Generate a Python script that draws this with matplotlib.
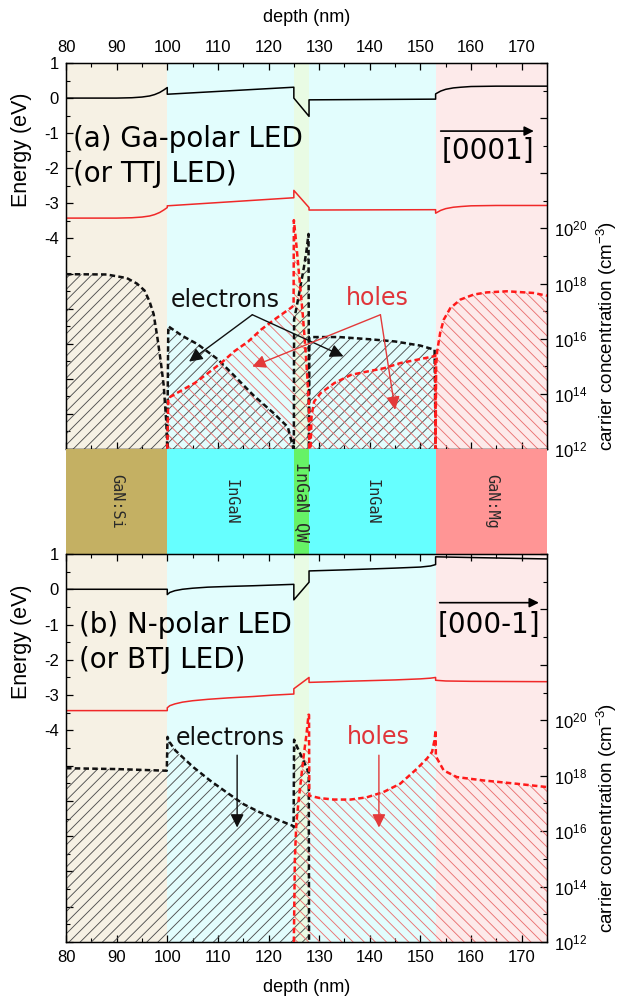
import numpy as np
import matplotlib
matplotlib.use('Agg')
import matplotlib.pyplot as plt
from matplotlib.ticker import FixedLocator, FuncFormatter, NullFormatter

plt.rcParams['font.family'] = ['Liberation Sans', 'DejaVu Sans']
plt.rcParams['mathtext.fontset'] = 'custom'
plt.rcParams['mathtext.rm'] = 'Liberation Sans'
plt.rcParams['mathtext.it'] = 'Liberation Sans:italic'
plt.rcParams['mathtext.bf'] = 'Liberation Sans:bold'
plt.rcParams['hatch.linewidth'] = 0.65

# ---------------- data ----------------
layer_names = ['GaN:Si', 'InGaN', 'InGaN QW', 'InGaN', 'GaN:Mg']
layer_edges = [80, 100, 125, 128, 153, 175]
layer_strip_colors = ['#c4b063', '#66ffff', '#66f266', '#66ffff', '#ff9595']
layer_bg_colors = ['#f6f1e4', '#e2fdfd', '#e9fbe4', '#e2fdfd', '#fdeaea']

# panel (a) bands (eV)
cb_a_x = [80, 90, 93, 95, 96.5, 97.5, 98.5, 99.3, 100.0, 100.0, 125.0, 125.0, 128.0, 128.0,
          153.0, 153.0, 154, 155, 156.5, 158, 160, 165, 175]
cb_a_E = [0.0, 0.0, 0.01, 0.03, 0.06, 0.1, 0.16, 0.23, 0.3, 0.11, 0.31, 0.0, -0.52, -0.05,
          -0.03, 0.12, 0.2, 0.25, 0.29, 0.31, 0.33, 0.34, 0.34]
vb_a_x = [80, 90, 93, 95, 96.5, 97.5, 98.5, 99.3, 100.0, 100.0, 125.0, 125.0, 128.0, 128.0,
          153.0, 153.0, 154, 155, 156.5, 158, 160, 165, 175]
vb_a_E = [-3.42, -3.42, -3.41, -3.39, -3.36, -3.32, -3.26, -3.19, -3.12, -3.07, -2.84, -2.63,
          -3.12, -3.19, -3.18, -3.28, -3.2, -3.15, -3.11, -3.09, -3.07, -3.06, -3.06]

# panel (a) carriers (log10 cm^-3)
n_a_x = [80, 88, 92, 94, 95.5, 96.5, 97.3, 98, 98.7, 99.3, 99.8, 100.0, 100.2, 103, 106, 110,
         113, 117, 121, 123.8, 124.8, 125.0, 125.05, 125.5, 126.0, 126.5, 127.0, 127.5, 127.9,
         128.0, 128.05, 134, 140, 145, 150, 152.8, 153.0]
n_a_log = [18.34, 18.33, 18.2, 18.0, 17.75, 17.35, 16.9, 16.1, 15.2, 14.3, 13.0, 12.0, 16.45,
           16.1, 15.8, 15.25, 14.7, 13.95, 13.3, 12.8, 12.1, 12.0, 16.7, 17.1, 17.6, 18.1, 18.6,
           19.2, 19.8, 12.0, 16.06, 16.06, 15.98, 15.9, 15.75, 15.6, 12.0]
p_a_x = [100.0, 100.2, 102.2, 105.5, 108.1, 110.7, 113.3, 116.0, 118.6, 121.2, 124.5, 124.95,
         125.0, 125.4, 125.8, 126.3, 126.8, 127.3, 127.7, 128.0, 128.05, 128.3, 128.5, 129.0,
         130.3, 133.0, 136.3, 139.5, 142.8, 146.1, 149.4, 152.6, 152.95, 153.0, 153.1, 153.3,
         153.9, 154.6, 155.9, 157.9, 160.5, 163.1, 167.1, 172.3, 175.0]
p_a_log = [12.0, 13.85, 14.06, 14.4, 14.76, 15.13, 15.55, 15.9, 16.34, 16.7, 17.13, 17.2,
           20.3, 19.6, 18.8, 17.8, 16.8, 15.6, 14.5, 13.5, 12.0, 12.0, 13.2, 13.72,
           14.03, 14.39, 14.69, 14.81, 14.93, 15.12, 15.24, 15.36, 15.4, 12.0, 15.0, 15.54,
           16.21, 16.69, 17.11, 17.42, 17.6, 17.68, 17.72, 17.66, 17.56]

# panel (b) bands (eV)
cb_b_x = [80, 100, 100, 100.5, 101.5, 103, 105, 108, 112, 117, 121, 125, 125, 128, 128, 135,
          145, 150, 152, 153, 153, 160, 175]
cb_b_E = [0.0, 0.0, -0.15, -0.09, -0.04, 0.0, 0.03, 0.06, 0.08, 0.1, 0.12, 0.14, -0.3, 0.2,
          0.52, 0.55, 0.6, 0.63, 0.66, 0.7, 0.92, 0.9, 0.86]
vb_b_x = [80, 100, 100, 100.5, 101.5, 103, 105, 108, 112, 117, 121, 125, 125, 128, 128, 135,
          145, 150, 152, 153, 153, 155, 160, 175]
vb_b_E = [-3.44, -3.44, -3.36, -3.3, -3.25, -3.2, -3.16, -3.12, -3.08, -3.04, -3.0, -2.97,
          -2.82, -2.5, -2.64, -2.61, -2.57, -2.54, -2.52, -2.5, -2.58, -2.6, -2.61, -2.62]

# panel (b) carriers (log10 cm^-3)
n_b_x = [80, 90, 99.9, 100.05, 100.5, 101.6, 105.2, 108.5, 111.8, 115.1, 118.4, 121.7, 124.7,
         124.95, 125.05, 125.5, 126.0, 126.5, 127.0, 127.5, 127.95, 128.0]
n_b_log = [18.27, 18.24, 18.18, 19.4, 19.2, 18.91, 18.3, 17.82, 17.39, 16.97, 16.67, 16.42,
           16.2, 16.15, 19.3, 19.1, 18.9, 18.7, 18.5, 18.3, 18.1, 12.0]
p_b_x = [125.0, 125.2, 125.5, 126.0, 126.5, 127.0, 127.5, 127.9, 128.0, 128.05, 130.2, 132.9,
         136.2, 139.4, 142.7, 146.0, 149.3, 151.3, 152.3, 152.8, 153.0, 153.05, 154.6, 157.2,
         162.4, 169.0, 175.0]
p_b_log = [12.0, 15.0, 16.3, 17.2, 18.0, 18.8, 19.5, 20.2, 20.2, 17.28, 17.19, 17.14,
           17.14, 17.22, 17.41, 17.71, 18.25, 18.62, 18.86, 19.3, 19.65, 18.7, 18.19, 17.95,
           17.83, 17.71, 17.59]

energy_ticks = list(range(-10, 2))
conc_exponents = list(range(12, 27, 2))

# ---------------- figure ----------------
W, H = 622, 1001
fig = plt.figure(figsize=(W / 100, H / 100), dpi=100)

L = 66 / W
AW = (547 - 66) / W


def frac_rect(top_px, bot_px):
    return [L, 1 - bot_px / H, AW, (bot_px - top_px) / H]


RED = '#f02828'
RED_TXT = '#e0353a'


def panel(ax, cb_x, cb_E, vb_x, vb_E, n_x, n_log, p_x, p_log, top_labels, right_label_y):
    for i in range(5):
        ax.axvspan(layer_edges[i], layer_edges[i + 1], color=layer_bg_colors[i], lw=0, zorder=0)
    ax.plot(cb_x, cb_E, color='k', lw=1.1, zorder=3)
    ax.plot(vb_x, vb_E, color=RED, lw=1.1, zorder=3)
    ax.set_xlim(80, 175)
    ax.set_ylim(-10, 1)
    ax.xaxis.set_major_locator(FixedLocator(list(range(80, 176, 10))))
    ax.xaxis.set_minor_locator(FixedLocator(list(range(85, 176, 10))))
    ax.yaxis.set_major_locator(FixedLocator(energy_ticks))
    ax.yaxis.set_minor_locator(FixedLocator([v + 0.5 for v in energy_ticks[:-1]]))
    ax.yaxis.set_major_formatter(FuncFormatter(lambda v, p: f'{int(round(v))}' if v >= -4.5 else ''))
    ax.tick_params(axis='both', which='both', direction='in', top=True, bottom=True, labelsize=12)
    ax.tick_params(which='major', length=5, width=0.9)
    ax.tick_params(which='minor', length=3, width=0.8)
    ax.tick_params(axis='x', labeltop=top_labels, labelbottom=not top_labels, pad=6)
    ax.tick_params(axis='y', pad=5)
    ax.text(-0.092, 0.775, 'Energy (eV)', transform=ax.transAxes, rotation=90,
            ha='center', va='center', fontsize=15.5)

    ax2 = ax.twinx()
    ax2.set_yscale('log')
    ax2.set_ylim(1e12, 1e26)
    n = 10.0 ** np.array(n_log)
    p = 10.0 ** np.array(p_log)
    ax2.fill_between(n_x, 1e12, n, facecolor='none', edgecolor='#505050', hatch='///', lw=0, zorder=2)
    ax2.fill_between(p_x, 1e12, p, facecolor='none', edgecolor='#ea7272', hatch='\\\\\\', lw=0, zorder=2)
    ax2.plot(n_x, n, color='#111111', lw=1.8, ls=(0, (2.2, 1.3)), zorder=4)
    ax2.plot(p_x, p, color='#ff1a1a', lw=1.8, ls=(0, (2.2, 1.3)), zorder=4)
    ax2.yaxis.set_major_locator(FixedLocator([10.0 ** k for k in conc_exponents]))
    ax2.yaxis.set_minor_locator(FixedLocator([10.0 ** (k + 1) for k in conc_exponents[:-1]]))
    ax2.yaxis.set_major_formatter(FuncFormatter(
        lambda v, p: f'10$^{{{int(round(np.log10(v)))}}}$' if v <= 1.01e20 else ''))
    ax2.yaxis.set_minor_formatter(NullFormatter())
    ax2.tick_params(axis='y', which='both', direction='in', labelsize=12, pad=5)
    ax2.tick_params(which='major', length=5, width=0.9)
    ax2.tick_params(which='minor', length=3, width=0.8)
    ax2.text(1.124, right_label_y, 'carrier concentration (cm$^{-3}$)', transform=ax2.transAxes,
             rotation=90, ha='center', va='center', fontsize=13.5)
    for s in ax2.spines.values():
        s.set_linewidth(1.0)
    return ax2


# panel (a)
axa = fig.add_axes(frac_rect(63, 449))
axa2 = panel(axa, cb_a_x, cb_a_E, vb_a_x, vb_a_E, n_a_x, n_a_log, p_a_x, p_a_log, True, 0.293)

# strip
axs = fig.add_axes(frac_rect(449, 554))
for i in range(5):
    axs.axvspan(layer_edges[i], layer_edges[i + 1], color=layer_strip_colors[i], lw=0)
    axs.text((layer_edges[i] + layer_edges[i + 1]) / 2, 0.5, layer_names[i], rotation=270,
             ha='center', va='center', fontsize=12 if i == 2 else 11,
             family='DejaVu Sans Mono', color='#2a2a2a')
axs.set_xlim(80, 175)
axs.set_ylim(0, 1)
axs.axis('off')

# panel (b)
axb = fig.add_axes(frac_rect(554, 942))
axb2 = panel(axb, cb_b_x, cb_b_E, vb_b_x, vb_b_E, n_b_x, n_b_log, p_b_x, p_b_log, False, 0.32)

# axis titles
fig.text(0.4925, 1 - 17 / H, 'depth (nm)', ha='center', va='center', fontsize=13)
fig.text(0.4925, 1 - 987 / H, 'depth (nm)', ha='center', va='center', fontsize=13)

# big labels
big = dict(family='DejaVu Sans', fontsize=20, va='center', ha='left', zorder=6)
axa.text(81.3, -1.16, '(a) Ga-polar LED', **big)
axa.text(81.3, -2.17, '(or TTJ LED)', **big)
axb.text(82.5, -1.0, '(b) N-polar LED', **big)
axb.text(82.5, -2.0, '(or BTJ LED)', **big)

axa.text(172.4, -1.5, '[0001]', family='DejaVu Sans', fontsize=20, ha='right', va='center', zorder=6)
axb.text(173.7, -1.0, '[000-1]', family='DejaVu Sans', fontsize=20, ha='right', va='center', zorder=6)
arr = dict(arrowstyle='-|>', color='k', lw=1.2, mutation_scale=14, shrinkA=0, shrinkB=0)
axa.annotate('', xy=(172.4, -0.94), xytext=(154.0, -0.94), arrowprops=arr, zorder=6)
axb.annotate('', xy=(173.4, -0.38), xytext=(153.8, -0.38), arrowprops=arr, zorder=6)

# carrier annotations
lab = dict(family='DejaVu Sans', fontsize=17, ha='center', va='center', zorder=7)
axa2.text(111.5, 10 ** 17.42, 'electrons', color='#111111', **lab)
axa2.text(141.5, 10 ** 17.48, 'holes', color=RED_TXT, **lab)
axb2.text(112.5, 10 ** 19.35, 'electrons', color='#111111', **lab)
axb2.text(141.6, 10 ** 19.38, 'holes', color=RED_TXT, **lab)

ka = dict(arrowstyle='-|>', color='#111111', lw=1.0, mutation_scale=20, shrinkA=0, shrinkB=0)
ra = dict(arrowstyle='-|>', color='#e33a3a', lw=1.0, mutation_scale=20, shrinkA=0, shrinkB=0)
axa2.annotate('', xy=(104.3, 10 ** 15.17), xytext=(116.8, 10 ** 16.87), arrowprops=ka, zorder=7)
axa2.annotate('', xy=(134.8, 10 ** 15.36), xytext=(116.8, 10 ** 16.87), arrowprops=ka, zorder=7)
axa2.annotate('', xy=(116.8, 10 ** 14.99), xytext=(142.1, 10 ** 16.87), arrowprops=ra, zorder=7)
axa2.annotate('', xy=(145.0, 10 ** 13.42), xytext=(142.1, 10 ** 16.87), arrowprops=ra, zorder=7)
axb2.annotate('', xy=(113.8, 10 ** 16.13), xytext=(113.8, 10 ** 18.74), arrowprops=ka, zorder=7)
axb2.annotate('', xy=(141.8, 10 ** 16.13), xytext=(141.8, 10 ** 18.74), arrowprops=ra, zorder=7)

fig.savefig('out.png', dpi=100)
